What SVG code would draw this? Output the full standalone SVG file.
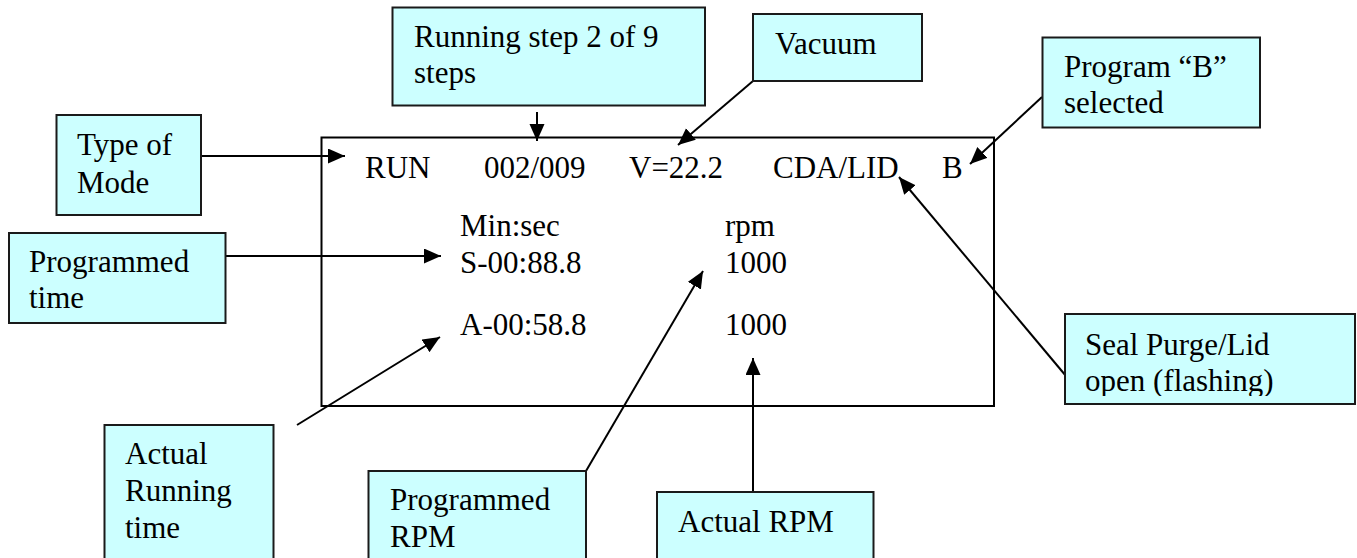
<svg xmlns="http://www.w3.org/2000/svg" width="1357" height="558" viewBox="0 0 1357 558">
<style>
.box{fill:#CCFFFF;stroke:#1a1a1a;stroke-width:2}
.frame{fill:none;stroke:#000;stroke-width:2}
.conn{fill:none;stroke:#000;stroke-width:2}
text{font-family:'Liberation Serif','Times New Roman',serif;font-size:31px;fill:#000}
</style>
<defs>
<marker id="ah" markerUnits="userSpaceOnUse" markerWidth="18" markerHeight="16" refX="17" refY="7.5" orient="auto">
<path d="M0,0 L17,7.5 L0,15 z" fill="#000"/>
</marker>
<clipPath id="sealclip"><rect x="1065" y="315" width="290" height="81"/></clipPath>
</defs>
<rect width="1357" height="558" fill="#fff"/>

<g id="display">
<rect class="frame" x="321.5" y="137.5" width="672.5" height="268.5"/>
<text x="365" y="178">RUN</text>
<text x="484" y="178">002/009</text>
<text x="629" y="178">V=22.2</text>
<text x="773" y="178">CDA/LID</text>
<text x="942" y="178">B</text>
<text x="460" y="236">Min:sec</text>
<text x="725" y="236">rpm</text>
<text x="460" y="273">S-00:88.8</text>
<text x="725" y="273">1000</text>
<text x="460" y="335">A-00:58.8</text>
<text x="725" y="335">1000</text>
</g>

<g id="connectors">
<path class="conn" marker-end="url(#ah)" d="M537,112 L537,141"/>
<path class="conn" marker-end="url(#ah)" d="M201,156 L345,156"/>
<path class="conn" marker-end="url(#ah)" d="M225,256 L441,256"/>
<path class="conn" marker-end="url(#ah)" d="M753,81 L678,145"/>
<path class="conn" marker-end="url(#ah)" d="M1042,97 L970,164"/>
<path class="conn" marker-end="url(#ah)" d="M1066,376 L899,177"/>
<path class="conn" marker-end="url(#ah)" d="M297,425 L440,337"/>
<path class="conn" marker-end="url(#ah)" d="M586,471 L703,271"/>
<path class="conn" marker-end="url(#ah)" d="M753,492 L753,358"/>
</g>

<g id="running-step">
<rect class="box" x="392.5" y="7.5" width="312.5" height="98"/>
<text x="414" y="47">Running step 2 of 9</text>
<text x="414" y="83">steps</text>
</g>

<g id="vacuum">
<rect class="box" x="753" y="14" width="169" height="67"/>
<text x="775" y="54">Vacuum</text>
</g>

<g id="program-b">
<rect class="box" x="1042.5" y="37.5" width="217.5" height="90"/>
<text x="1064" y="77">Program “B”</text>
<text x="1064" y="113">selected</text>
</g>

<g id="type-of-mode">
<rect class="box" x="56.5" y="115" width="144.5" height="100"/>
<text x="77" y="155">Type of</text>
<text x="77" y="193">Mode</text>
</g>

<g id="programmed-time">
<rect class="box" x="9" y="233" width="216.5" height="90"/>
<text x="29" y="272">Programmed</text>
<text x="29" y="308">time</text>
</g>

<g id="seal-purge">
<rect class="box" x="1065" y="314" width="290" height="90"/>
<g clip-path="url(#sealclip)">
<text x="1085" y="355">Seal Purge/Lid</text>
<text x="1085" y="391">open (flashing)</text>
</g>
</g>

<g id="actual-running-time">
<rect class="box" x="104.5" y="425" width="169" height="150"/>
<text x="125" y="464">Actual</text>
<text x="125" y="501">Running</text>
<text x="125" y="538">time</text>
</g>

<g id="programmed-rpm">
<rect class="box" x="368.5" y="471" width="217.5" height="110"/>
<text x="390" y="510">Programmed</text>
<text x="390" y="547">RPM</text>
</g>

<g id="actual-rpm">
<rect class="box" x="657" y="492" width="216.5" height="90"/>
<text x="678" y="532">Actual RPM</text>
</g>
</svg>
